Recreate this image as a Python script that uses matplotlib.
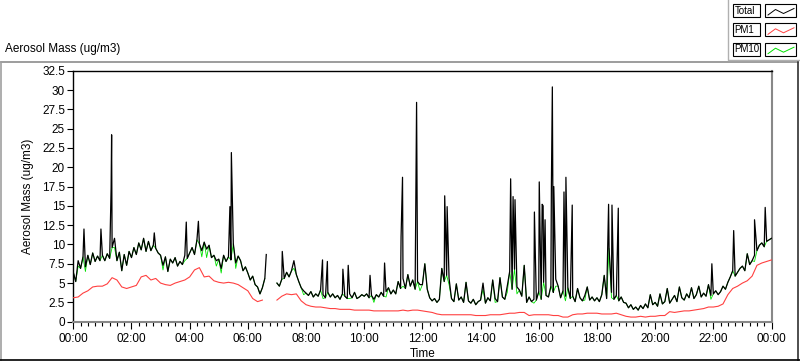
import numpy as np
import matplotlib.pyplot as plt
from matplotlib.ticker import MultipleLocator, FuncFormatter
from matplotlib.patches import Rectangle

nan = np.nan

# Total mass, 5 minute readings, one row per hour (00:00 .. 23:55)
total_5min = [
    [6.4, 5.2, 7.9, 6.9, 8.4, 7.1, 8.6, 7.4, 8.9, 7.8, 8.5, 7.9],
    [8.6, 7.9, 8.8, 8.2, 9.6, 10.8, 7.9, 9.0, 6.6, 8.7, 7.3, 9.1],
    [8.3, 9.6, 8.7, 10.2, 9.3, 10.8, 9.1, 10.4, 9.2, 9.9, 9.5, 8.9],
    [8.6, 7.3, 8.4, 6.5, 8.1, 7.6, 8.3, 7.2, 7.8, 7.4, 8.6, 8.2],
    [8.9, 9.6, 8.7, 10.6, 10.1, 9.2, 10.3, 9.4, 9.9, 8.3, 8.6, 7.9],
    [8.1, 6.9, 8.6, 7.8, 8.4, 8.0, 10.1, 7.6, 8.5, 7.9, 6.6, 7.1],
    [6.3, 5.4, 5.9, 4.8, 4.5, 3.6, 4.4, 5.6, nan, nan, nan, nan],
    [5.0, 4.6, 5.5, 5.6, 6.4, 5.8, 6.6, 7.9, 6.1, 5.2, 4.4, 4.0],
    [3.7, 3.4, 3.9, 3.2, 3.6, 3.3, 4.1, 3.5, 3.1, 3.8, 3.2, 3.6],
    [3.1, 3.4, 2.9, 3.6, 3.3, 3.0, 3.6, 3.1, 3.8, 3.0, 3.2, 3.5],
    [3.3, 3.6, 3.1, 3.4, 2.9, 3.5, 3.2, 3.8, 3.3, 3.9, 4.4, 3.6],
    [4.1, 3.6, 5.2, 4.3, 5.6, 4.3, 6.1, 4.6, 5.4, 4.2, 5.2, 4.8],
    [4.8, 7.5, 4.2, 3.1, 2.7, 3.0, 2.5, 2.9, 6.9, 5.2, 6.0, 5.6],
    [3.0, 2.6, 4.9, 2.8, 3.2, 2.5, 5.1, 2.7, 2.4, 2.9, 2.2, 2.6],
    [2.8, 5.0, 2.4, 3.1, 2.7, 5.4, 3.0, 2.6, 5.7, 3.2, 2.9, 4.6],
    [6.5, 4.2, 6.8, 4.5, 4.1, 3.3, 7.3, 2.5, 3.2, 2.6, 2.9, 2.8],
    [3.9, 2.9, 5.1, 3.4, 3.2, 4.6, 3.8, 5.5, 4.6, 3.1, 4.0, 3.3],
    [4.4, 3.0, 3.3, 2.6, 4.3, 3.1, 2.7, 3.4, 4.5, 2.8, 3.2, 2.7],
    [3.1, 2.6, 3.5, 6.0, 3.0, 9.5, 3.8, 2.9, 3.4, 2.7, 3.2, 2.5],
    [2.4, 1.8, 2.2, 1.6, 1.9, 1.5, 2.1, 1.7, 2.3, 1.8, 3.5, 2.2],
    [2.5, 2.0, 3.6, 2.3, 2.6, 4.3, 2.4, 2.9, 3.4, 2.6, 4.5, 3.1],
    [2.8, 3.6, 3.1, 4.4, 3.0, 3.5, 4.6, 3.2, 3.7, 3.3, 4.8, 3.4],
    [3.6, 4.0, 3.5, 3.9, 4.6, 4.2, 5.1, 5.8, 6.6, 5.9, 6.4, 6.9],
    [7.2, 6.6, 8.8, 7.4, 7.9, 8.6, 9.2, 9.9, 10.2, 9.7, 10.4, 10.6],
]
total_end = 10.8

# short peaks in the total between the 5 minute readings
spike_times = ["00:22", "00:57", "01:18", "01:19", "02:47", "03:53", "04:18",
               "05:23", "05:26", "06:38", "07:11", "08:34", "08:44", "09:16",
               "09:27", "10:12", "10:42", "11:16", "11:19", "11:48", "11:49",
               "12:46", "12:51", "15:02", "15:07", "15:11", "15:51", "16:01",
               "16:07", "16:09", "16:13", "16:26", "16:28", "16:31", "16:52",
               "16:56", "17:09", "18:24", "18:31", "18:44", "21:57", "22:42",
               "23:25", "23:47"]
spike_values = [12.0, 12.0, 17.3, 24.2, 11.5, 12.9, 13.0,
                14.9, 21.9, 8.7, 9.1, 8.0, 7.8, 6.8,
                7.3, 6.0, 7.6, 11.0, 18.7, 28.4, 15.7,
                16.3, 14.9, 18.5, 16.2, 15.8, 14.2, 18.1,
                15.2, 15.0, 13.2, 17.3, 30.4, 17.5, 16.8,
                18.7, 15.1, 15.2, 15.1, 14.7, 7.5, 11.8,
                13.2, 14.8]

# PM10 follows the total except at these readings
pm10_times = ["00:10", "00:25", "01:25", "03:05", "03:50", "04:25", "04:35",
              "04:55", "05:05", "05:35", "07:35", "07:55", "08:35", "09:30",
              "10:20", "10:45", "11:20", "11:55", "12:55", "14:05", "14:30",
              "14:55", "15:15", "15:50", "16:35", "16:55", "17:35", "18:30",
              "21:55", "23:25"]
pm10_values = [7.2, 6.5, 9.6, 6.7, 7.9, 8.4, 8.3,
               7.2, 6.3, 6.9, 6.9, 3.5, 3.0, 3.0,
               2.5, 3.2, 4.6, 4.0, 4.8, 4.2, 2.5,
               3.8, 3.6, 2.4, 4.6, 2.7, 2.8, 3.1,
               2.9, 7.8]

# PM1, 10 minute readings, one row per hour
pm1_10min = [
    [3.1, 3.2, 3.7, 4.0, 4.5, 4.6],
    [4.6, 4.9, 5.7, 5.4, 4.5, 4.3],
    [4.5, 4.7, 5.8, 6.0, 5.4, 5.6],
    [5.0, 4.8, 4.7, 5.0, 5.2, 5.4],
    [5.8, 6.7, 7.0, 5.8, 5.9, 5.3],
    [5.1, 5.0, 5.1, 5.0, 4.8, 4.4],
    [4.0, 3.0, 2.6, 2.8, nan, nan],
    [2.8, 3.3, 3.6, 3.5, 3.6, 2.7],
    [2.2, 2.0, 1.9, 1.9, 1.8, 1.7],
    [1.7, 1.6, 1.6, 1.6, 1.5, 1.5],
    [1.5, 1.5, 1.4, 1.4, 1.4, 1.4],
    [1.4, 1.4, 1.5, 1.4, 1.5, 1.5],
    [1.4, 1.3, 1.2, 1.0, 0.9, 0.9],
    [0.9, 0.9, 0.9, 0.9, 0.9, 0.8],
    [0.8, 0.8, 0.9, 0.9, 0.9, 1.0],
    [1.1, 1.1, 1.2, 1.2, 0.8, 0.9],
    [0.9, 0.9, 0.9, 0.8, 0.8, 0.6],
    [0.6, 0.9, 1.0, 1.0, 1.1, 1.1],
    [1.1, 1.0, 1.0, 1.0, 1.1, 0.9],
    [0.7, 0.6, 0.6, 0.7, 0.6, 0.7],
    [0.7, 0.8, 0.8, 1.3, 1.2, 1.3],
    [1.4, 1.4, 1.5, 1.6, 1.7, 1.9],
    [1.9, 2.0, 2.3, 3.5, 4.3, 4.6],
    [5.0, 5.3, 5.9, 7.3, 7.6, 7.8],
]
pm1_end = 8.0

legend_names = ["Total", "PM1", "PM10"]
colors = ["black", "#ff4040", "#00e000"]


def to_hours(s):
    h, m = s.split(":")
    return int(h) + int(m) / 60


base_v = np.array(sum(total_5min, []) + [total_end])
base_t = np.arange(len(base_v)) * 5 / 60

pm10_v = base_v.copy()
for t, v in zip(pm10_times, pm10_values):
    pm10_v[int(round(to_hours(t) * 12))] = v

tot_t = np.concatenate([base_t, [to_hours(s) for s in spike_times]])
tot_v = np.concatenate([base_v, spike_values])
order = np.argsort(tot_t, kind="stable")
tot_t, tot_v = tot_t[order], tot_v[order]

pm1_v = np.array(sum(pm1_10min, []) + [pm1_end])
pm1_t = np.arange(len(pm1_v)) * 10 / 60

plt.rcParams['font.family'] = ['Liberation Sans', 'DejaVu Sans']
fig = plt.figure(figsize=(8, 3.61), dpi=100)

ax = fig.add_axes([73.3 / 800, 39.3 / 361, 698.2 / 800, 251 / 361])
ax.plot(base_t, pm10_v, color=colors[2], lw=0.6, zorder=2)
ax.plot(pm1_t, pm1_v, color=colors[1], lw=0.8, zorder=3)
ax.plot(tot_t, tot_v, color=colors[0], lw=0.9, zorder=4)

ax.set_xlim(0, 24)
ax.set_ylim(0, 32.5)
ax.yaxis.set_major_locator(MultipleLocator(2.5))
ax.yaxis.set_major_formatter(FuncFormatter(lambda v, p: "%g" % v))
ax.xaxis.set_major_locator(MultipleLocator(2))
ax.xaxis.set_minor_locator(MultipleLocator(0.25))
ax.xaxis.set_major_formatter(FuncFormatter(lambda h, p: "%02d:00" % (int(round(h)) % 24)))
ax.tick_params(axis='both', which='major', direction='out', labelsize=8.5, width=0.8, pad=2)
ax.tick_params(axis='x', which='major', length=5, pad=3)
ax.tick_params(axis='y', which='major', length=4)
ax.tick_params(axis='x', which='minor', length=3, width=0.8)
for side in ['left', 'top']:
    ax.spines[side].set_color('black')
    ax.spines[side].set_linewidth(1.0)
for side in ['right', 'bottom']:
    ax.spines[side].set_color('#888888')
    ax.spines[side].set_linewidth(1.5)
ax.set_ylabel("Aerosol Mass (ug/m3)", fontsize=8.5, labelpad=6)
ax.set_xlabel("Time", fontsize=8.5, labelpad=2)

# panel frame, caption and legend drawn in pixel space
over = fig.add_axes([0, 0, 1, 1], zorder=-1)
over.set_xlim(0, 800)
over.set_ylim(361, 0)
over.axis('off')
over.plot([0.5, 797.5], [62, 62], color='#8c8c8c', lw=1.2)
over.plot([0.7, 0.7], [62, 360], color='#a0a0a0', lw=1.2)
over.plot([797.5, 797.5], [62, 360], color='#303030', lw=1.2)
over.plot([0, 800], [359.6, 359.6], color='black', lw=1.2)
over.plot([728, 728, 800], [0, 60, 60], color='#b0b0b0', lw=1.0)
over.text(5, 49, "Aerosol Mass (ug/m3)", fontsize=8.5, va='center', ha='left')

row_top = [4, 23.3, 42.7]
for name, col, y0 in zip(legend_names, colors, row_top):
    over.add_patch(Rectangle((732.5, y0), 27, 13, fill=False, ec='black', lw=0.8))
    over.add_patch(Rectangle((764.5, y0), 31.5, 13, fill=False, ec='black', lw=0.8))
    over.text(734.5, y0 + 6.8, name, fontsize=7, va='center', ha='left')
    over.plot([768, 775.5, 783.5, 794], [y0 + 11, y0 + 5.5, y0 + 9.5, y0 + 4.5],
              color=col, lw=0.7)

fig.savefig("out.png", dpi=100)
